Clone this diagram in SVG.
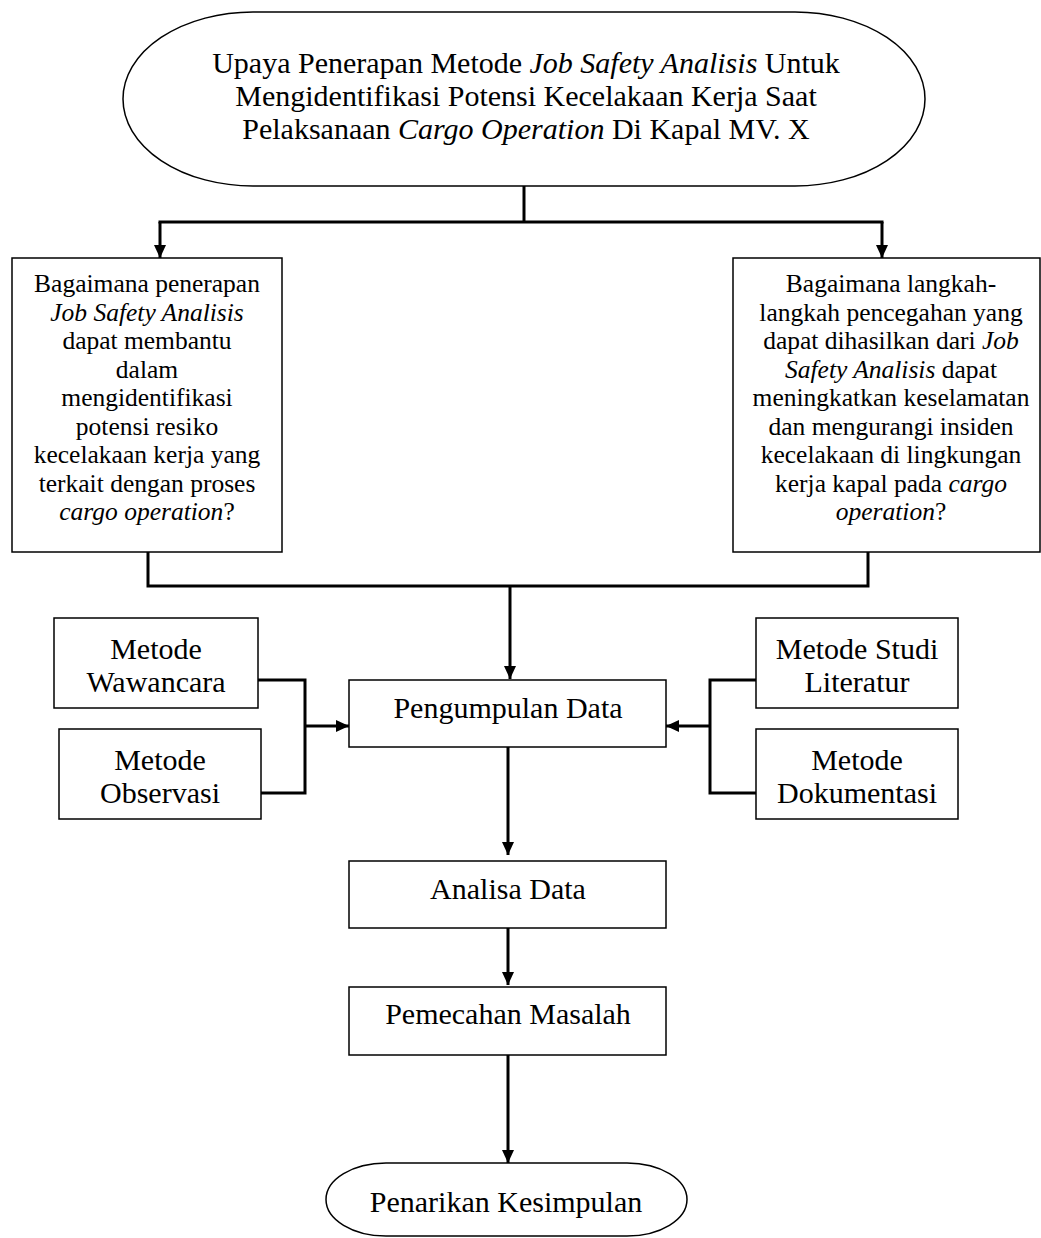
<svg xmlns="http://www.w3.org/2000/svg" width="1041" height="1238" viewBox="0 0 1041 1238">
<style>
.box{fill:#fff;stroke:#000;stroke-width:1.5}
.t{font-family:"Liberation Serif","Times New Roman",serif;fill:#000;text-anchor:middle}
.q{font-size:25.5px}
.m{font-size:30px}
.it{font-style:italic}
.c{fill:none;stroke:#000;stroke-width:3}
</style>
<defs>
<marker id="ah" markerUnits="userSpaceOnUse" markerWidth="14" markerHeight="14" viewBox="0 0 14 14" refX="13" refY="7" orient="auto">
<path d="M0,1 L13,7 L0,13 Z" fill="#000"/>
</marker>
</defs>
<rect width="1041" height="1238" fill="#fff"/>
<g id="connectors">
<line class="c" x1="524" y1="186" x2="524" y2="222"/>
<line class="c" x1="158.5" y1="222" x2="883.5" y2="222"/>
<line class="c" x1="160" y1="222" x2="160" y2="258" marker-end="url(#ah)"/>
<line class="c" x1="882" y1="222" x2="882" y2="258" marker-end="url(#ah)"/>
<polyline class="c" points="148,552 148,586 868,586 868,552"/>
<line class="c" x1="510" y1="586" x2="510" y2="679" marker-end="url(#ah)"/>
<polyline class="c" points="258,680 305,680 305,793 261,793"/>
<line class="c" x1="305" y1="726" x2="349" y2="726" marker-end="url(#ah)"/>
<polyline class="c" points="756,680 710,680 710,793 756,793"/>
<line class="c" x1="710" y1="726" x2="666" y2="726" marker-end="url(#ah)"/>
<line class="c" x1="508" y1="746" x2="508" y2="855" marker-end="url(#ah)"/>
<line class="c" x1="508" y1="928" x2="508" y2="985" marker-end="url(#ah)"/>
<line class="c" x1="508" y1="1055" x2="508" y2="1163" marker-end="url(#ah)"/>
</g>
<g id="title">
<rect class="box" x="123" y="12" width="802" height="174" rx="130" ry="87"/>
<text class="t m" x="526" y="73">Upaya Penerapan Metode <tspan class="it">Job Safety Analisis</tspan> Untuk</text>
<text class="t m" x="526" y="106">Mengidentifikasi Potensi Kecelakaan Kerja Saat</text>
<text class="t m" x="526" y="139">Pelaksanaan <tspan class="it">Cargo Operation</tspan> Di Kapal MV. X</text>
</g>
<g id="q1">
<rect class="box" x="12" y="258" width="270" height="294"/>
<text class="t q" x="147" y="292">Bagaimana penerapan</text>
<text class="t q it" x="147" y="320.5">Job Safety Analisis</text>
<text class="t q" x="147" y="349">dapat membantu</text>
<text class="t q" x="147" y="377.5">dalam</text>
<text class="t q" x="147" y="406">mengidentifikasi</text>
<text class="t q" x="147" y="434.5">potensi resiko</text>
<text class="t q" x="147" y="463">kecelakaan kerja yang</text>
<text class="t q" x="147" y="491.5">terkait dengan proses</text>
<text class="t q" x="147" y="520"><tspan class="it">cargo operation</tspan>?</text>
</g>
<g id="q2">
<rect class="box" x="733" y="258" width="307" height="294"/>
<text class="t q" x="891" y="292">Bagaimana langkah-</text>
<text class="t q" x="891" y="320.5">langkah pencegahan yang</text>
<text class="t q" x="891" y="349">dapat dihasilkan dari <tspan class="it">Job</tspan></text>
<text class="t q" x="891" y="377.5"><tspan class="it">Safety Analisis</tspan> dapat</text>
<text class="t q" x="891" y="406">meningkatkan keselamatan</text>
<text class="t q" x="891" y="434.5">dan mengurangi insiden</text>
<text class="t q" x="891" y="463">kecelakaan di lingkungan</text>
<text class="t q" x="891" y="491.5">kerja kapal pada <tspan class="it">cargo</tspan></text>
<text class="t q" x="891" y="520"><tspan class="it">operation</tspan>?</text>
</g>
<g id="wawancara">
<rect class="box" x="54" y="618" width="204" height="90"/>
<text class="t m" x="156" y="659">Metode</text>
<text class="t m" x="156" y="692">Wawancara</text>
</g>
<g id="observasi">
<rect class="box" x="59" y="729" width="202" height="90"/>
<text class="t m" x="160" y="770">Metode</text>
<text class="t m" x="160" y="803">Observasi</text>
</g>
<g id="pengumpulan">
<rect class="box" x="349" y="680" width="317" height="67"/>
<text class="t m" x="508" y="718">Pengumpulan Data</text>
</g>
<g id="literatur">
<rect class="box" x="756" y="618" width="202" height="90"/>
<text class="t m" x="857" y="659">Metode Studi</text>
<text class="t m" x="857" y="692">Literatur</text>
</g>
<g id="dokumentasi">
<rect class="box" x="756" y="729" width="202" height="90"/>
<text class="t m" x="857" y="770">Metode</text>
<text class="t m" x="857" y="803">Dokumentasi</text>
</g>
<g id="analisa">
<rect class="box" x="349" y="861" width="317" height="67"/>
<text class="t m" x="508" y="899">Analisa Data</text>
</g>
<g id="pemecahan">
<rect class="box" x="349" y="987" width="317" height="68"/>
<text class="t m" x="508" y="1024">Pemecahan Masalah</text>
</g>
<g id="kesimpulan">
<rect class="box" x="326" y="1163" width="361" height="73" rx="60" ry="36.5"/>
<text class="t m" x="506" y="1212">Penarikan Kesimpulan</text>
</g>
</svg>
